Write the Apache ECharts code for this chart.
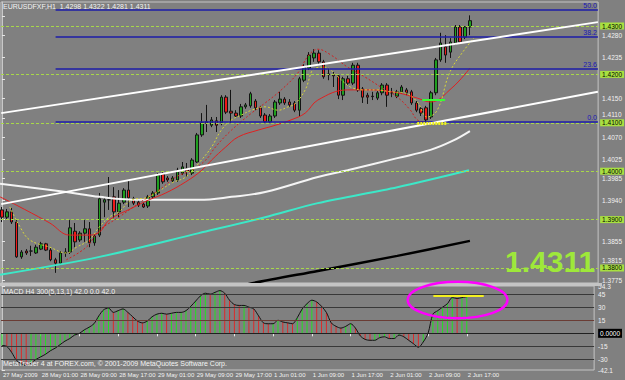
<!DOCTYPE html>
<html><head><meta charset="utf-8">
<script src="https://cdn.jsdelivr.net/npm/echarts@6/dist/echarts.min.js"></script>
<style>html,body{margin:0;padding:0;background:#808080;}#c{width:625px;height:380px;}</style>
</head><body><div id="c"></div>
<script>
// ---- data ----
const timeTicks = [0,8,16,24,32,40,48,56,64,72,80,88,96];
const timeLabels = ['27 May 2009','28 May 01:00','28 May 09:00','28 May 17:00','29 May 01:00','29 May 09:00','29 May 17:00','1 Jun 01:00','1 Jun 09:00','1 Jun 17:00','2 Jun 01:00','2 Jun 09:00','2 Jun 17:00'];
const opens  = [1.3920,1.3905,1.3916,1.3895,1.3823,1.3835,1.3835,1.3831,1.3839,1.3850,1.3837,1.3817,1.3810,1.3831,1.3833,1.3876,1.3858,1.3872,1.3881,1.3852,1.3868,1.3936,1.3941,1.3947,1.3916,1.3936,1.3961,1.3943,1.3936,1.3932,1.3928,1.3947,1.3955,1.3994,1.3986,1.3980,1.3982,1.3996,1.4005,1.3996,1.4019,1.4075,1.4102,1.4095,1.4104,1.4100,1.4153,1.4124,1.4120,1.4114,1.4133,1.4135,1.4145,1.4131,1.4116,1.4102,1.4114,1.4141,1.4149,1.4143,1.4141,1.4126,1.4188,1.4213,1.4234,1.4244,1.4226,1.4201,1.4199,1.4197,1.4157,1.4191,1.4182,1.4219,1.4170,1.4157,1.4155,1.4151,1.4162,1.4178,1.4162,1.4155,1.4164,1.4168,1.4164,1.4141,1.4129,1.4131,1.4112,1.4162,1.4230,1.4257,1.4246,1.4265,1.4298,1.4277,1.4298];
const closes = [1.3905,1.3916,1.3895,1.3823,1.3833,1.3831,1.3835,1.3843,1.3850,1.3837,1.3817,1.3810,1.3831,1.3833,1.3883,1.3854,1.3872,1.3881,1.3852,1.3866,1.3943,1.3941,1.3941,1.3916,1.3934,1.3961,1.3945,1.3934,1.3930,1.3926,1.3947,1.3955,1.3992,1.3978,1.3982,1.3986,1.4002,1.4009,1.4000,1.4023,1.4075,1.4100,1.4099,1.4106,1.4095,1.4153,1.4122,1.4120,1.4114,1.4133,1.4137,1.4160,1.4131,1.4114,1.4102,1.4114,1.4143,1.4149,1.4141,1.4137,1.4126,1.4191,1.4215,1.4240,1.4244,1.4226,1.4195,1.4199,1.4197,1.4157,1.4191,1.4182,1.4219,1.4168,1.4153,1.4153,1.4154,1.4162,1.4178,1.4157,1.4162,1.4164,1.4174,1.4162,1.4141,1.4126,1.4120,1.4106,1.4162,1.4230,1.4265,1.4240,1.4267,1.4298,1.4267,1.4298,1.4311];
const lows   = [1.3895,1.3901,1.3891,1.3821,1.3819,1.3827,1.3825,1.3829,1.3837,1.3835,1.3814,1.3790,1.3806,1.3823,1.3829,1.3843,1.3854,1.3854,1.3843,1.3846,1.3864,1.3905,1.3920,1.3903,1.3905,1.3932,1.3926,1.3930,1.3926,1.3924,1.3924,1.3943,1.3951,1.3974,1.3978,1.3976,1.3978,1.3992,1.3988,1.3992,1.4017,1.4071,1.4081,1.4091,1.4081,1.4095,1.4118,1.4100,1.4110,1.4110,1.4129,1.4131,1.4126,1.4110,1.4100,1.4100,1.4110,1.4137,1.4137,1.4133,1.4122,1.4112,1.4184,1.4209,1.4226,1.4221,1.4191,1.4188,1.4174,1.4149,1.4147,1.4178,1.4178,1.4164,1.4141,1.4139,1.4147,1.4147,1.4157,1.4133,1.4153,1.4151,1.4160,1.4157,1.4137,1.4122,1.4114,1.4102,1.4108,1.4157,1.4226,1.4224,1.4234,1.4261,1.4263,1.4273,1.4281];
const highs  = [1.3926,1.3922,1.3924,1.3899,1.3837,1.3839,1.3846,1.3848,1.3854,1.3852,1.3841,1.3821,1.3835,1.3841,1.3899,1.3893,1.3876,1.3899,1.3895,1.3870,1.3955,1.3947,1.3988,1.3967,1.3961,1.3965,1.3982,1.3947,1.3941,1.3936,1.3951,1.3959,1.3996,1.3998,1.3990,1.3990,1.4007,1.4019,1.4017,1.4027,1.4079,1.4120,1.4137,1.4112,1.4112,1.4157,1.4157,1.4168,1.4126,1.4139,1.4141,1.4164,1.4149,1.4135,1.4120,1.4118,1.4147,1.4164,1.4153,1.4149,1.4145,1.4195,1.4221,1.4246,1.4252,1.4250,1.4230,1.4213,1.4205,1.4201,1.4195,1.4197,1.4224,1.4224,1.4174,1.4162,1.4164,1.4166,1.4182,1.4182,1.4172,1.4168,1.4178,1.4172,1.4168,1.4145,1.4133,1.4135,1.4166,1.4234,1.4286,1.4281,1.4275,1.4302,1.4302,1.4300,1.4322];
const macd = [-14,-15,-22,-31,-35,-37,-34,-30,-27,-24,-20,-17,-13,-9,-6,-2,0,4,7,11,20,27,29,24,26,28,24,19,14,12,14,19,22,23,22,23,24,24,26,31,37,43,46,45,47,49,46,38,33,32,32,30,28,20,12,11,11,15,13,12,11,18,28,34,38,36,31,24,12,8,6,8,11,6,-3,-7,-8,-8,-5,-4,-6,-6,-2,-4,-8,-12,-16,-10,0,22,26,30,34,41,40,41,42];
// indicator lines: [bar position, price]
const fastMA = [[1.6,1.3926],[3.7,1.3885],[5.7,1.3858],[9.8,1.3843],[13.2,1.3831],[15.3,1.3843],[17.9,1.3858],[20,1.3885],[22,1.3905],[24,1.3916],[26.7,1.3941],[29.6,1.3945],[31.6,1.3955],[34.9,1.3976],[37.7,1.3988],[40.4,1.4017],[43,1.4050],[45,1.4085],[47.1,1.4106],[49.1,1.4116],[51.2,1.4126],[54,1.4133],[56.7,1.4126],[58.7,1.4133],[60.1,1.4139],[62.2,1.4168],[64.2,1.4213],[66.2,1.4215],[68.9,1.4195],[71.5,1.4174],[74.4,1.4168],[77,1.4168],[79.7,1.4164],[82.6,1.4162],[85.2,1.4143],[87.2,1.4112],[89.3,1.4126],[91.9,1.4205],[94.8,1.4250],[96.8,1.4275]];
const redDotMA = [[13.2,1.3817],[17.3,1.3843],[20,1.3878],[24,1.3905],[28.1,1.3934],[32.2,1.3961],[35.7,1.3988],[38.9,1.4002],[41.8,1.4023],[43.8,1.4050],[47.1,1.4085],[51.2,1.4120],[54,1.4141],[57.3,1.4168],[60.7,1.4203],[62.8,1.4238],[64.8,1.4252],[67.5,1.4240],[70.9,1.4215],[74.4,1.4195],[77.7,1.4174],[81.1,1.4153],[83.8,1.4126],[85.2,1.4106],[86.8,1.4102]];
const redMA = [[-0.4,1.3947],[3.7,1.3926],[9.8,1.3893],[13.9,1.3868],[17.9,1.3868],[20,1.3874],[22,1.3899],[26.7,1.3924],[30.2,1.3941],[33.6,1.3955],[37.7,1.3978],[41,1.4002],[43,1.4023],[45.9,1.4050],[48.5,1.4071],[52.6,1.4085],[56.1,1.4095],[59.3,1.4106],[62.2,1.4120],[64.8,1.4147],[70.9,1.4168],[75.6,1.4168],[81.1,1.4162],[85.2,1.4151],[87.9,1.4143],[92.3,1.4172],[96,1.4213]];
const whiteMA = [[-0.4,1.3974],[13.2,1.3957],[20,1.3947],[28.1,1.3941],[40.4,1.3941],[47.1,1.3947],[54,1.3957],[64.8,1.3988],[70.9,1.4002],[81.1,1.4027],[87.9,1.4044],[92.3,1.4062],[96,1.4083]];
const cyanMA = [[-0.4,1.3786],[20,1.3823],[40.4,1.3872],[54,1.3905],[64.8,1.3934],[81.1,1.3967],[95.8,1.4002]];
const blackMA = [[48,1.3760],[51.6,1.3769],[64.8,1.3794],[81.1,1.3825],[96,1.3856]];
const roundLevels = [1.4300,1.4200,1.4100,1.4000,1.3900,1.3800];
const fibLevels = [1.4102,1.4211,1.4278,1.4333];
const fibNames = ['0.0','23.6','38.2','50.0'];
const fibStart = 11;
const channels = [[[-0.15,1.4120],[122.25,1.4308]],[[-0.15,1.3932],[122.25,1.4164]]];
const priceTicks = [1.4320,1.4280,1.4235,1.4190,1.4150,1.4110,1.4070,1.4025,1.3985,1.3940,1.3900,1.3855,1.3815,1.3775];
const priceHidden = [1.4320,1.4190,1.3900];
const macdTicks = [54.3,45,30,15,0,-15,-30,-42.1];
const macdLevels = [45,30,15,0,-15,-30];
const lastPrice = 1.4311;
const greenMark = [[86.2,1.4147],[90.9,1.4147]];
const yellowMark = [[85.2,1.4100],[91.3,1.4100]];
const macdMark = [[89.1,43.6],[99.5,43.6]];
const ellipse = {x:94.1, y:38.2, rx:10.3, ry:20.9};

// ---- chart ----
const F = "'Liberation Sans',Arial,sans-serif";
const chart = echarts.init(document.getElementById('c'), null, {renderer:'svg'});
const candles = opens.map((o,i)=>[i, o, closes[i], lows[i], highs[i]]);
const macdBars = macd.map((v,i)=>({value:[i,v], itemStyle:{color:(i===0||v>=macd[i-1])?'#22e022':'#dd2a2a'}}));
const line = (data,color,w,type,smooth)=>({type:'line',xAxisIndex:0,yAxisIndex:0,data,showSymbol:false,symbol:'none',smooth:smooth,z:4,lineStyle:{color,width:w,type},silent:true});

const option = {
  animation:false,
  backgroundColor:'#808080',
  grid:[
    {left:1,top:2,width:601,height:281,show:true,backgroundColor:'#808080',borderColor:'#c4c4c4',borderWidth:1},
    {left:1,top:286,width:601,height:84,show:true,backgroundColor:'#808080',borderColor:'#c4c4c4',borderWidth:1}
  ],
  xAxis:[
    {type:'value',gridIndex:0,min:-0.2,max:122.3,show:false},
    {type:'value',gridIndex:1,min:-0.2,max:122.3,splitLine:{show:false},
     axisLine:{show:true,lineStyle:{color:'#c4c4c4'}},
     axisTick:{show:true,customValues:timeTicks,length:3,lineStyle:{color:'#e8e8e8'}},
     axisLabel:{customValues:timeTicks,showMinLabel:true,hideOverlap:false,formatter:v=>timeLabels[timeTicks.indexOf(v)]||'',align:'left',margin:2,padding:[0,0,0,1],color:'#f2f2f2',fontSize:6,fontFamily:F}}
  ],
  yAxis:[
    {type:'value',gridIndex:0,position:'right',min:1.3769,max:1.43496,scale:true,splitLine:{show:false},
     axisLine:{show:true,lineStyle:{color:'#c8c8c8'}},
     axisTick:{show:true,customValues:priceTicks,length:3,lineStyle:{color:'#e8e8e8'}},
     axisLabel:{customValues:priceTicks.filter(v=>priceHidden.indexOf(v)<0),formatter:v=>v===1.4110?'{u|'+v.toFixed(4)+'}':v.toFixed(4),color:'#f2f2f2',fontSize:6.5,fontFamily:F,margin:4,
       rich:{u:{color:'#f2f2f2',fontSize:6.5,fontFamily:F,padding:[0,0,6,0]}}}},
    {type:'value',gridIndex:1,position:'right',min:-42.1,max:54.3,splitLine:{show:false},
     axisLine:{show:true,lineStyle:{color:'#c8c8c8'}},
     axisTick:{show:true,customValues:macdTicks,length:3,lineStyle:{color:'#e8e8e8'}},
     axisLabel:{customValues:macdTicks,formatter:v=>v===0?'{z|0.0000}':String(v),color:'#f2f2f2',fontSize:6.5,fontFamily:F,margin:4,
       rich:{z:{backgroundColor:'#000',color:'#fff',fontSize:6.5,fontFamily:F,padding:[1,2]}}}}
  ],
  series:[
    {type:'line',xAxisIndex:0,yAxisIndex:0,data:[],z:1,silent:true,
     markLine:{symbol:'none',silent:true,animation:false,
       lineStyle:{color:'#a8d848',width:1,type:[3,2]},
       label:{position:'end',distance:2,formatter:p=>p.value.toFixed(4),backgroundColor:'#a8e040',color:'#000',fontSize:6.5,fontFamily:F,padding:[0,2,0,2]},
       data:roundLevels.map(v=>({yAxis:v}))}},
    {type:'line',xAxisIndex:0,yAxisIndex:0,data:[],z:2,silent:true,
     markLine:{symbol:'none',silent:true,animation:false,
       lineStyle:{color:'#1c1ca8',width:1.5,type:'solid'},
       label:{position:'insideEndTop',distance:1,color:'#1818b8',fontSize:7,fontFamily:F},
       data:fibLevels.map((v,i)=>[{coord:[fibStart,v],label:{formatter:fibNames[i]}},{coord:[122.25,v]}])}},
    {type:'candlestick',xAxisIndex:0,yAxisIndex:0,data:candles,encode:{x:0,y:[1,2,3,4]},barWidth:3,z:3,
     itemStyle:{color:'#1f9f1f',color0:'#f01818',borderColor:'#141414',borderColor0:'#141414',borderWidth:1}},
    line(cyanMA,'#3ce8c8',2,'solid',0.3),
    line(blackMA,'#000',2.5,'solid',0.3),
    line(whiteMA,'#f4f4f4',2,'solid',0.4),
    line(redMA,'#e02020',1,'solid',0.4),
    line(redDotMA,'#d02020',1,[2,2],0.4),
    line(fastMA,'#d8d838',1,[2,2],0.4),
    {type:'line',xAxisIndex:0,yAxisIndex:0,data:[],z:5,silent:true,
     markLine:{symbol:'none',silent:true,animation:false,label:{show:false},
       data:[
         ...channels.map(c=>[{coord:c[0],lineStyle:{color:'#ffffff',width:2,type:'solid'}},{coord:c[1]}]),
         [{coord:greenMark[0],lineStyle:{color:'#33ff33',width:2,type:'solid'}},{coord:greenMark[1]}],
         [{coord:yellowMark[0],lineStyle:{color:'#f0f020',width:3,type:[2,1]}},{coord:yellowMark[1]}]
       ]}},
    {type:'line',xAxisIndex:0,yAxisIndex:0,data:[],z:6,silent:true,
     markLine:{symbol:'none',silent:true,animation:false,lineStyle:{opacity:0},
       label:{position:'end',distance:2,offset:[0,-7],formatter:()=>lastPrice.toFixed(4),backgroundColor:'#ffffff',color:'#000',fontSize:6.5,fontFamily:F,padding:[0,2,0,2]},
       data:[{yAxis:lastPrice}]}},
    {type:'bar',xAxisIndex:1,yAxisIndex:1,data:macdBars,barWidth:1,z:2,silent:true,
     markLine:{symbol:'none',silent:true,animation:false,label:{show:false},
       lineStyle:{color:'#383838',width:1,type:'solid'},
       data:[...macdLevels.map(v=>({yAxis:v,lineStyle:{color:v===15?'#6a3c34':(v===0?'#202020':'#383838')}})),
             [{coord:macdMark[0],lineStyle:{color:'#f4f020',width:2}},{coord:macdMark[1]}]]}},
    {type:'line',xAxisIndex:1,yAxisIndex:1,data:macd.map((v,i)=>[i,v]),showSymbol:false,symbol:'none',smooth:0.3,z:3,silent:true,lineStyle:{color:'#111',width:1}}
  ],
  graphic:[
    {id:'sep',type:'rect',shape:{x:0,y:283,width:602,height:3},style:{fill:'#c4c4c4'},z:50,silent:true},
    {id:'hdr',type:'text',left:3,top:3,style:{text:'EURUSDFXF,H1  '+[opens[96],highs[96],lows[96],closes[96]].map(v=>v.toFixed(4)).join(' '),fill:'#f4f4f4',font:'7px '+F},z:60},
    {id:'mh',type:'text',left:3,top:288,style:{text:'MACD H4 300(5,13,1) 42.0 0.0 42.0',fill:'#f4f4f4',font:'7px '+F},z:60},
    {id:'cp',type:'text',left:3,top:360,style:{text:'MetaTrader 4 at FOREX.com, © 2001-2009 MetaQuotes Software Corp.',fill:'#f4f4f4',font:'7px '+F},z:60},
    {id:'big',type:'text',left:505,top:246,style:{text:lastPrice.toFixed(4),fill:'#9ee83a',font:'bold 30px "Liberation Sans",Arial,sans-serif'},z:60}
  ]
};
chart.setOption(option);
const c0 = chart.convertToPixel({xAxisIndex:1,yAxisIndex:1},[ellipse.x,ellipse.y]);
const c1 = chart.convertToPixel({xAxisIndex:1,yAxisIndex:1},[ellipse.x+ellipse.rx,ellipse.y+ellipse.ry]);
chart.setOption({graphic:[{id:'ell',type:'ellipse',shape:{cx:c0[0],cy:c0[1],rx:Math.abs(c1[0]-c0[0]),ry:Math.abs(c0[1]-c1[1])},style:{fill:'none',stroke:'#ff00ff',lineWidth:2.5},z:70,silent:true}]});
</script></body></html>
